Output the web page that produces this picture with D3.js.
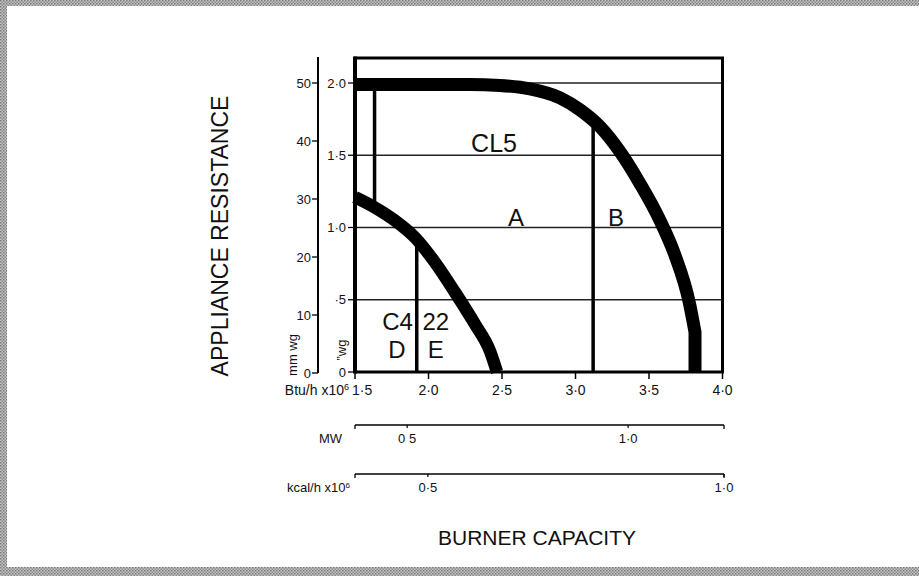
<!DOCTYPE html>
<html>
<head>
<meta charset="utf-8">
<script src="https://cdnjs.cloudflare.com/ajax/libs/d3/7.8.5/d3.min.js"></script>
<style>
  body { margin: 0; background: #fff; }
  text { font-family: "Liberation Sans", Arial, Helvetica, sans-serif; fill: #111; }
</style>
</head>
<body>
<div id="chart-area"></div>
<script>
// canvas size
const svgWidth = 919,
      svgHeight = 576;

// plot frame (pixels)
const frame = {left: 355, right: 722.5, top: 58, bottom: 372};

// ---- data ----
// burner capacity ticks (Btu/h x10^6)
const btuTicks = [1.5, 2.0, 2.5, 3.0, 3.5, 4.0];
const btuLabels = ["1·5", "2·0", "2·5", "3·0", "3·5", "4·0"];
// appliance resistance, inches wg
const wgTicks = [0, 0.5, 1.0, 1.5, 2.0];
const wgLabels = ["0", "·5", "1·0", "1·5", "2·0"];
// appliance resistance, mm wg
const mmTicks = [0, 10, 20, 30, 40, 50];
// secondary capacity scales
const mwTicks = [0.5, 1.0];
const mwLabels = ["0 5", "1·0"];
const kcalTicks = [0.5, 1.0];
const kcalLabels = ["0·5", "1·0"];

// burner curves [Btu/h x10^6, "wg]
const cl5Curve = [[1.5, 1.99], [2.282, 1.99], [2.486, 1.983], [2.690, 1.959], [2.895, 1.897],
                  [3.031, 1.814], [3.167, 1.697], [3.303, 1.524], [3.439, 1.303], [3.575, 1.048],
                  [3.677, 0.807], [3.772, 0.490], [3.813, 0.276]];
const cl5Foot = [[3.813, 0.276], [3.813, 0]];
const c422Curve = [[1.5, 1.210], [1.636, 1.138], [1.772, 1.048], [1.908, 0.931], [2.044, 0.759],
                   [2.180, 0.552], [2.316, 0.331], [2.418, 0.145], [2.466, 0]];

// region dividers: btu, top "wg, bottom "wg
const dividerX = [1.633, 1.92, 3.12];
const dividerTop = [1.99, 0.92, 1.74];
const dividerBottom = [1.14, 0, 0];

// region labels
const regionNames = ["CL5", "A", "B", "C4", "22", "D", "E"];
const regionBtu = [2.446, 2.595, 3.276, 1.79, 2.05, 1.786, 2.05];
const regionWg = [1.52, 1.01, 1.01, 0.29, 0.29, 0.097, 0.097];

// svg
var svg = d3.select("#chart-area")
    .append("svg")
    .attr("width", svgWidth)
    .attr("height", svgHeight);

// hatched grey border of the scan
var defs = svg.append("defs");
var pat = defs.append("pattern")
    .attr("id", "hatch")
    .attr("width", 3).attr("height", 3)
    .attr("patternUnits", "userSpaceOnUse");
pat.append("rect").attr("width", 3).attr("height", 3).attr("fill", "#c8c8c8");
pat.append("rect").attr("width", 1.5).attr("height", 1.5).attr("fill", "#777");
pat.append("rect").attr("x", 1.5).attr("y", 1.5).attr("width", 1.5).attr("height", 1.5).attr("fill", "#888");

svg.append("rect").attr("x", 0).attr("y", 0).attr("width", svgWidth).attr("height", 6).attr("fill", "url(#hatch)");
svg.append("rect").attr("x", 0).attr("y", 0).attr("width", 7).attr("height", svgHeight).attr("fill", "url(#hatch)");
svg.append("rect").attr("x", 0).attr("y", 567).attr("width", svgWidth).attr("height", 9).attr("fill", "url(#hatch)");

// scales
var xScale = d3.scaleLinear()
    .domain([1.5, 4.0])
    .range([frame.left, frame.right]);
var yScale = d3.scaleLinear()
    .domain([0, 2.0])
    .range([frame.bottom, 83]);
var mmScale = d3.scaleLinear()
    .domain([0, 50])
    .range([373, 83]);
var mwScale = d3.scaleLinear()
    .domain([0.382, 1.217])
    .range([frame.left, 724]);
var kcalScale = d3.scaleLinear()
    .domain([0.377, 1.0])
    .range([frame.left, 724]);

// gridlines
svg.append("g")
    .selectAll("line")
    .data(wgTicks.slice(1))
    .enter().append("line")
    .attr("x1", frame.left).attr("x2", frame.right)
    .attr("y1", function(d){ return yScale(d); })
    .attr("y2", function(d){ return yScale(d); })
    .attr("stroke", "#222")
    .attr("stroke-width", 1.4);

// frame
svg.append("line").attr("x1", frame.left - 1).attr("x2", frame.right + 1.5)
    .attr("y1", frame.top).attr("y2", frame.top).attr("stroke", "#000").attr("stroke-width", 3);
svg.append("line").attr("x1", frame.right).attr("x2", frame.right)
    .attr("y1", frame.top).attr("y2", frame.bottom).attr("stroke", "#000").attr("stroke-width", 3);
svg.append("line").attr("x1", frame.left).attr("x2", frame.left)
    .attr("y1", frame.top - 1.5).attr("y2", frame.bottom + 1.5).attr("stroke", "#000").attr("stroke-width", 4);
svg.append("line").attr("x1", frame.left).attr("x2", frame.right + 1.5)
    .attr("y1", frame.bottom).attr("y2", frame.bottom).attr("stroke", "#000").attr("stroke-width", 3);

// region divider lines
svg.append("g")
    .selectAll("line")
    .data(dividerX)
    .enter().append("line")
    .attr("x1", function(d){ return xScale(d); })
    .attr("x2", function(d){ return xScale(d); })
    .attr("y1", function(d, i){ return yScale(dividerTop[i]); })
    .attr("y2", function(d, i){ return yScale(dividerBottom[i]); })
    .attr("stroke", "#000")
    .attr("stroke-width", 3.5);

// burner curves (monotone so the arcs don't wobble)
var curveLine = d3.line()
    .x(function(d){ return xScale(d[0]); })
    .y(function(d){ return yScale(d[1]); })
    .curve(d3.curveMonotoneX);
var straightLine = d3.line()
    .x(function(d){ return xScale(d[0]); })
    .y(function(d){ return yScale(d[1]); });

svg.append("path")
    .attr("d", curveLine(cl5Curve) + straightLine(cl5Foot).replace("M", "L"))
    .attr("fill", "none")
    .attr("stroke", "#000")
    .attr("stroke-width", 13)
    .attr("stroke-linejoin", "miter");

svg.append("path")
    .attr("d", curveLine(c422Curve))
    .attr("fill", "none")
    .attr("stroke", "#000")
    .attr("stroke-width", 12.5);

// region labels
svg.append("g")
    .selectAll("text")
    .data(regionNames)
    .enter().append("text")
    .attr("x", function(d, i){ return xScale(regionBtu[i]); })
    .attr("y", function(d, i){ return yScale(regionWg[i]); })
    .attr("text-anchor", "middle")
    .attr("font-size", function(d){ return d == "CL5" ? "25px" : "24px"; })
    .text(function(d){ return d; });

// "wg ticks on the frame
var wgAxis = svg.append("g");
wgTicks.forEach(function(t, i){
    wgAxis.append("line")
	.attr("x1", frame.left - 7).attr("x2", frame.left)
	.attr("y1", yScale(t)).attr("y2", yScale(t))
	.attr("stroke", "#000").attr("stroke-width", 1.3);
    wgAxis.append("text")
	.attr("x", frame.left - 9)
	.attr("y", yScale(t))
	.attr("dy", "0.35em")
	.attr("text-anchor", "end")
	.attr("font-size", "13px")
	.text(wgLabels[i]);
});

// mm wg axis
var mmX = 318;
var mmAxis = svg.append("g");
mmAxis.append("line")
    .attr("x1", mmX).attr("x2", mmX)
    .attr("y1", 57).attr("y2", mmScale(0))
    .attr("stroke", "#000").attr("stroke-width", 2);
mmTicks.forEach(function(t){
    mmAxis.append("line")
	.attr("x1", mmX - 6).attr("x2", mmX)
	.attr("y1", mmScale(t)).attr("y2", mmScale(t))
	.attr("stroke", "#000").attr("stroke-width", 1.3);
    mmAxis.append("text")
	.attr("x", mmX - 7)
	.attr("y", mmScale(t))
	.attr("dy", "0.35em")
	.attr("text-anchor", "end")
	.attr("font-size", "13px")
	.text(t);
});

// unit labels on the resistance axes
svg.append("text")
    .attr("transform", "translate(297,355) rotate(-90)")
    .attr("text-anchor", "middle")
    .attr("font-size", "13px")
    .text("mm wg");
svg.append("text")
    .attr("transform", "translate(346,350) rotate(-90)")
    .attr("text-anchor", "middle")
    .attr("font-size", "13px")
    .text("\u201Dwg");

// Btu/h axis ticks
var btuAxis = svg.append("g");
btuTicks.forEach(function(t, i){
    btuAxis.append("line")
	.attr("x1", xScale(t)).attr("x2", xScale(t))
	.attr("y1", frame.bottom).attr("y2", frame.bottom + 7)
	.attr("stroke", "#000").attr("stroke-width", 1.5);
    btuAxis.append("text")
	.attr("x", i == 0 ? xScale(t) - 3 : xScale(t))
	.attr("y", 390)
	.attr("dy", "0.35em")
	.attr("text-anchor", i == 0 ? "start" : "middle")
	.attr("font-size", "14px")
	.text(btuLabels[i]);
});
var btuTitle = svg.append("text")
    .attr("x", 349).attr("y", 390)
    .attr("dy", "0.35em")
    .attr("text-anchor", "end")
    .attr("font-size", "14px");
btuTitle.append("tspan").text("Btu/h x10");
btuTitle.append("tspan").attr("font-size", "9px").attr("dy", "-0.5em").text("6");

// secondary axes: MW and kcal/h
function drawSecondary(scale, ticks, labels, yLine){
    var g = svg.append("g");
    g.append("line")
	.attr("x1", scale.range()[0]).attr("x2", scale.range()[1])
	.attr("y1", yLine).attr("y2", yLine)
	.attr("stroke", "#000").attr("stroke-width", 1.5);
    scale.range().forEach(function(r){
	g.append("line")
	    .attr("x1", r).attr("x2", r)
	    .attr("y1", yLine).attr("y2", yLine + 4)
	    .attr("stroke", "#000").attr("stroke-width", 1.3);
    });
    ticks.forEach(function(t, i){
	g.append("line")
	    .attr("x1", scale(t)).attr("x2", scale(t))
	    .attr("y1", yLine).attr("y2", yLine + 3)
	    .attr("stroke", "#000").attr("stroke-width", 1.2);
	g.append("text")
	    .attr("x", scale(t))
	    .attr("y", yLine + 13)
	    .attr("dy", "0.35em")
	    .attr("text-anchor", "middle")
	    .attr("font-size", "13px")
	    .text(labels[i]);
    });
    return g;
}
drawSecondary(mwScale, mwTicks, mwLabels, 425);
drawSecondary(kcalScale, kcalTicks, kcalLabels, 474);

svg.append("text")
    .attr("x", 342).attr("y", 438)
    .attr("dy", "0.35em")
    .attr("text-anchor", "end")
    .attr("font-size", "13px")
    .text("MW");
var kcalTitle = svg.append("text")
    .attr("x", 350).attr("y", 487)
    .attr("dy", "0.35em")
    .attr("text-anchor", "end")
    .attr("font-size", "13px");
kcalTitle.append("tspan").text("kcal/h x10");
kcalTitle.append("tspan").attr("font-size", "8px").attr("dy", "-0.5em").text("6");

// axis titles
svg.append("text")
    .attr("transform", "translate(228,236) rotate(-90)")
    .attr("text-anchor", "middle")
    .attr("font-size", "23px")
    .text("APPLIANCE RESISTANCE");
svg.append("text")
    .attr("x", 537).attr("y", 545)
    .attr("text-anchor", "middle")
    .attr("font-size", "21px")
    .text("BURNER CAPACITY");
</script>
</body>
</html>
